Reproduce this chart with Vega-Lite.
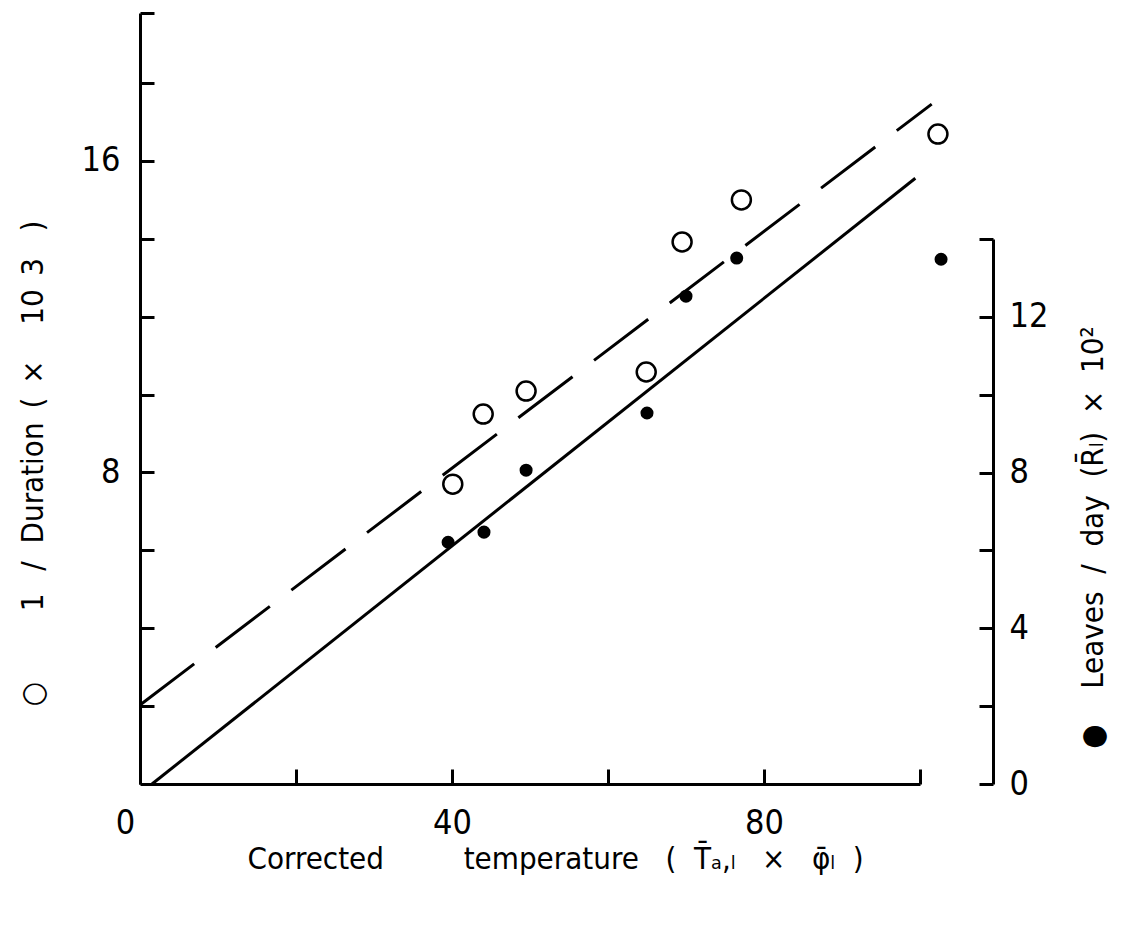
{
  "$schema": "https://vega.github.io/schema/vega-lite/v6.json",
  "width": 853,
  "height": 771,
  "autosize": {"type": "none"},
  "padding": {"left": 140, "top": 13, "right": 138, "bottom": 158},
  "background": "white",
  "config": {
    "view": {"stroke": null},
    "font": "DejaVu Sans Condensed, Liberation Sans Narrow, DejaVu Sans, sans-serif",
    "axis": {
      "grid": false,
      "domainColor": "black",
      "domainWidth": 3,
      "tickColor": "black",
      "tickWidth": 3,
      "labelColor": "black",
      "titleColor": "black",
      "labelFont": "DejaVu Sans Condensed, Liberation Sans Narrow, DejaVu Sans, sans-serif",
      "titleFont": "DejaVu Sans Condensed, Liberation Sans Narrow, DejaVu Sans, sans-serif",
      "labelFontSize": 34,
      "titleFontSize": 31,
      "titleFontWeight": "normal"
    }
  },
  "datasets": {
    "duration": [
      {"t": 40.1, "v": 7.70},
      {"t": 44.0, "v": 9.50},
      {"t": 49.5, "v": 10.09},
      {"t": 64.9, "v": 10.58},
      {"t": 69.5, "v": 13.92},
      {"t": 77.1, "v": 15.00},
      {"t": 102.3, "v": 16.69}
    ],
    "leaves": [
      {"t": 39.5, "v": 6.21},
      {"t": 44.1, "v": 6.47},
      {"t": 49.5, "v": 8.06},
      {"t": 65.0, "v": 9.53},
      {"t": 70.0, "v": 12.53},
      {"t": 76.5, "v": 13.51},
      {"t": 102.7, "v": 13.48}
    ],
    "fit_duration": [
      {"t": 0, "v": 2.03},
      {"t": 101.5, "v": 17.46}
    ],
    "fit_leaves": [
      {"t": 1.54, "v": 0},
      {"t": 99.4, "v": 15.56}
    ]
  },
  "encoding": {
    "x": {
      "field": "t",
      "type": "quantitative",
      "scale": {"domain": [0, 100], "range": [0, 780], "nice": false, "zero": false},
      "axis": {
        "orient": "bottom",
        "values": [0, 20, 40, 60, 80, 100],
        "format": "d",
        "labelExpr": "datum.value === 0 || datum.value === 40 || datum.value === 80 ? datum.label : ''",
        "labelFlush": false,
        "labelOffset": {"condition": {"test": "datum.value === 0", "value": -15}, "value": 0},
        "tickSize": -15,
        "labelPadding": 37,
        "labelAngle": 0,
        "title": "Corrected\u00a0\u00a0\u00a0\u00a0\u00a0\u00a0\u00a0\u00a0\u00a0temperature\u00a0\u00a0\u00a0(\u00a0\u00a0T\u0304\u2090,\u2097\u00a0\u00a0\u00a0\u00d7\u00a0\u00a0\u00a0\u03c6\u0304\u2097\u00a0\u00a0)",
        "titleX": 415,
        "titleY": 75,
        "titleAlign": "center",
        "titleBaseline": "middle"
      }
    }
  },
  "layer": [
    {
      "encoding": {
        "y": {
          "field": "v",
          "type": "quantitative",
          "scale": {"domain": [0, 19.8], "nice": false, "zero": false},
          "axis": {
            "orient": "left",
            "values": [2, 4, 6, 8, 10, 12, 14, 16, 18, 19.8],
            "format": "d",
            "labelExpr": "datum.value === 8 || datum.value === 16 ? datum.label : ''",
            "tickSize": -14,
            "labelPadding": 34,
            "title": "\u25cb\u00a0\u00a0\u00a0\u00a0\u00a0\u00a0\u00a0\u00a01\u00a0\u2002/\u00a0\u00a0Duration\u2002(\u2002\u00d7\u00a0\u00a0\u00a0\u00a010\u00a0\u20063\u00a0\u00a0\u00a0)",
            "titleAngle": 270,
            "titleX": -107,
            "titleY": 450,
            "titleAlign": "center",
            "titleBaseline": "middle"
          }
        }
      },
      "layer": [
        {
          "data": {"name": "fit_duration"},
          "mark": {"type": "line", "color": "black", "strokeWidth": 3, "strokeDash": [68, 27]}
        },
        {
          "data": {"name": "duration"},
          "mark": {"type": "point", "shape": "circle", "filled": false, "color": "black", "size": 360, "strokeWidth": 2.5, "opacity": 1}
        }
      ]
    },
    {
      "encoding": {
        "y": {
          "field": "v",
          "type": "quantitative",
          "scale": {"domain": [0, 14], "range": [771, 226], "nice": false, "zero": false},
          "axis": {
            "orient": "right",
            "values": [0, 2, 4, 6, 8, 10, 12, 14],
            "format": "d",
            "labelExpr": "datum.value === 0 || datum.value === 4 || datum.value === 8 || datum.value === 12 ? datum.label : ''",
            "tickSize": -14,
            "labelPadding": 30,
            "title": "\u25cf\u00a0\u00a0\u00a0\u00a0Leaves\u00a0\u00a0/\u00a0\u00a0day\u00a0\u00a0(R\u0304\u2097)\u00a0\u00a0\u00d7\u00a0\u00a010\u00b2",
            "titleAngle": 270,
            "titleX": 100,
            "titleY": 524,
            "titleAlign": "center",
            "titleBaseline": "middle"
          }
        }
      },
      "layer": [
        {
          "data": {"name": "fit_leaves"},
          "mark": {"type": "line", "color": "black", "strokeWidth": 3}
        },
        {
          "data": {"name": "leaves"},
          "mark": {"type": "point", "shape": "circle", "filled": true, "color": "black", "size": 170, "opacity": 1}
        }
      ]
    }
  ],
  "resolve": {"scale": {"y": "independent"}, "axis": {"y": "independent"}}
}
